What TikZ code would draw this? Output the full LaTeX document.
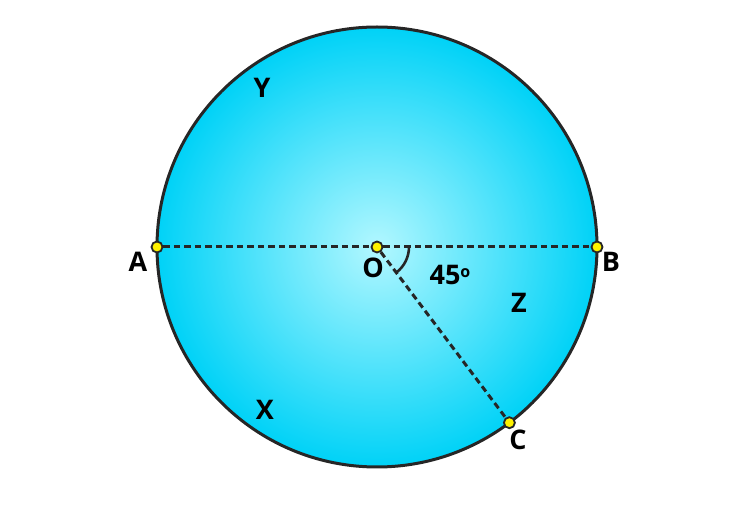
\documentclass[tikz,border=0pt]{standalone}
\usepackage{fontspec}
\setmainfont{Open Sans}
\usetikzlibrary{positioning}
\definecolor{discin}{RGB}{178,247,255}
\definecolor{discout}{RGB}{0,210,247}
\definecolor{rim}{RGB}{38,38,38}
\tikzset{
  pt/.style={circle,draw=rim,fill=yellow,line width=1.8pt,inner sep=0pt,minimum size=11pt},
  lbl/.style={font=\fontsize{27}{32}\selectfont\bfseries,inner sep=0pt},
  chord/.style={draw=rim,line width=3pt,dash pattern=on 6.5pt off 4pt}
}
\begin{document}
\begin{tikzpicture}[x=1pt,y=1pt]
  \useasboundingbox (0,0) rectangle (750,506);
  % disc
  \shade[inner color=discin,outer color=discout] (377,259) circle (220);
  \draw[rim,line width=3pt] (377,259) circle (220);
  % points
  \node[pt] (O) at (377,259) {};
  \node[pt] (A) at (157,259) {};
  \node[pt] (B) at (597,259) {};
  \node[pt] (C) at ([shift={(-53:220)}]O.center) {};
  % segments
  \draw[chord] (A) -- (O);
  \draw[chord] (O) -- (B);
  \draw[chord] (O) -- (C);
  \draw[rim,line width=2.6pt] ([shift={(0:32)}]O.center) arc (0:-53:32);
  % labels
  \node[lbl] (lA) at (138,244) {A};
  \node[lbl] (lB) at (611,244) {B};
  \node[lbl] (lC) at (518,66) {C};
  \node[lbl] (lO) at (373,238) {O};
  \node[lbl] (lY) at (262,418) {Y};
  \node[lbl] (lX) at (265,96) {X};
  \node[lbl] (lZ) at (519,203) {Z};
  \node[lbl] (lang) at (450,231) {45\raisebox{7pt}{\fontsize{16}{18}\selectfont o}};
\end{tikzpicture}
\end{document}
